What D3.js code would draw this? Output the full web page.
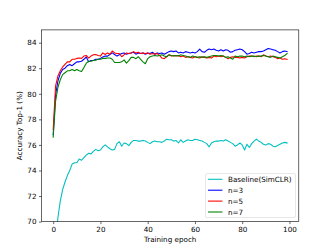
<!DOCTYPE html>
<html>
<head>
<meta charset="utf-8">
<script src="https://cdn.jsdelivr.net/npm/d3@7"></script>
<style>
  body { margin: 0; background: #fff; }
  svg { display: block; font-family: "DejaVu Sans", sans-serif; }
</style>
</head>
<body>
<div id="chart"></div>
<script>
const epochs = d3.range(0, 100);

const baseline = [
  66.5, 68.6, 70.3, 71.6, 72.5, 73.1, 73.6, 74.0, 74.5, 74.6,
  74.6, 74.9, 74.8, 75.0, 75.2, 75.35, 75.3, 75.5, 75.65, 75.55,
  75.6, 75.85, 76.0, 75.85, 75.7, 75.6, 75.65, 76.1, 76.25, 75.9,
  76.15, 76.1, 75.95, 76.2, 76.35, 76.35, 76.3, 76.3, 76.35, 76.3,
  76.2, 76.1, 76.25, 76.3, 76.25, 76.25, 76.2, 76.3, 76.45, 76.4,
  76.4, 76.3, 76.35, 76.15, 76.4, 76.2, 76.3, 76.4, 76.35, 76.35,
  76.45, 76.4, 76.35, 76.3, 76.2, 76.1, 75.85, 76.15, 76.25, 76.3,
  76.3, 76.35, 76.3, 76.4, 76.3, 76.2, 76.1, 75.9, 76.0, 76.15,
  76.0, 75.6, 76.05, 75.8, 76.1, 76.3, 76.45, 76.3, 76.2, 76.05,
  76.0, 76.1, 76.05, 75.9, 75.85, 75.95, 76.05, 76.15, 76.2, 76.15
];

const n3 = [
  76.8, 79.9, 81.0, 81.6, 81.9, 82.0, 82.2, 82.3, 82.2, 82.35,
  82.5, 82.5, 82.55, 82.7, 82.88, 82.5, 82.6, 82.6, 82.7, 82.7,
  82.77, 82.88, 82.95, 82.95, 83.08, 83.2, 83.08, 82.95, 83.05, 83.15,
  83.2, 83.1, 83.15, 83.2, 83.25, 83.1, 83.2, 83.15, 83.2, 83.1,
  83.2, 83.15, 83.25, 83.1, 83.2, 83.15, 83.2, 83.1, 83.2, 83.3,
  83.35, 83.3, 83.35, 83.2, 83.25, 83.2, 83.3, 83.25, 83.2, 83.25,
  83.2, 83.3, 83.5, 83.3, 83.25, 83.4, 83.5, 83.45, 83.5, 83.4,
  83.35, 83.45, 83.35, 83.45, 83.4, 83.25, 83.3, 83.4, 83.45, 83.5,
  83.45, 83.3, 83.1, 83.15, 83.25, 83.2, 83.25, 83.3, 83.3, 83.35,
  83.45, 83.55, 83.5, 83.45, 83.4, 83.3, 83.2, 83.3, 83.35, 83.3
];

const n5 = [
  77.2, 80.6, 81.4, 81.8, 82.1, 82.3, 82.5, 82.5, 82.7, 82.7,
  82.77, 82.8, 82.77, 82.95, 83.0, 82.8, 82.95, 83.05, 83.08, 83.0,
  82.95, 83.2, 83.08, 83.2, 83.1, 83.35, 83.2, 83.15, 83.15, 82.9,
  83.05, 83.2, 83.15, 83.2, 83.3, 83.2, 83.25, 83.15, 83.2, 83.15,
  83.2, 83.1, 83.15, 83.1, 83.15, 83.0, 82.8, 82.75, 82.9, 83.05,
  82.95, 83.0, 82.95, 83.0, 82.9, 82.95, 82.85, 82.9, 82.85, 82.8,
  82.9, 82.85, 82.8, 82.9, 82.85, 82.8, 82.85, 82.8, 82.95, 82.9,
  82.95, 82.9, 82.95, 82.85, 82.75, 82.85, 82.9, 82.85, 82.85, 82.8,
  82.85, 82.8, 82.9, 82.95, 82.95, 82.9, 82.95, 82.95, 82.9, 83.05,
  82.95, 82.9, 82.95, 82.9, 82.85, 82.75, 82.8, 82.7, 82.75, 82.7
];

const n7 = [
  76.6, 79.4, 80.5, 81.1, 81.5, 81.65, 81.8, 81.8, 81.9, 81.8,
  81.9, 81.8, 81.75, 82.05, 82.4, 82.55, 82.55, 82.6, 82.63, 82.7,
  82.7, 82.77, 82.77, 82.8, 82.8, 82.7, 82.45, 82.45, 82.45, 82.5,
  82.65, 82.4, 82.6, 82.85, 82.85, 82.75, 82.9, 82.7, 82.5, 82.35,
  82.75, 82.9, 82.95, 83.0, 82.95, 83.0, 83.05, 82.95, 82.9, 83.05,
  83.0, 82.95, 83.0, 82.95, 83.05, 83.0, 82.95, 82.9, 82.85, 82.95,
  82.9, 82.85, 82.9, 82.85, 82.9, 82.85, 82.9, 82.95, 83.0, 83.0,
  82.95, 83.0, 82.95, 82.85, 82.9, 82.8, 82.7, 82.95, 82.9, 82.95,
  82.95, 82.9, 82.95, 82.9, 82.95, 82.95, 82.9, 82.95, 82.95, 83.0,
  82.95, 82.9, 82.85, 82.95, 82.9, 82.85, 82.8, 82.9, 83.0, 83.15
];

const seriesNames = ['Baseline(SimCLR)', 'n=3', 'n=5', 'n=7'];
const seriesValues = [baseline, n3, n5, n7];
const seriesColors = ['#00bfbf', '#0000ff', '#ff0000', '#008000'];

const xTicks = [0, 20, 40, 60, 80, 100];
const yTicks = [70, 72, 74, 76, 78, 80, 82, 84];

const width = 332;
const height = 249;
const margin = { top: 29.9, right: 33.2, bottom: 27.4, left: 41.5 };
const fontSize = 7.2;

const svg = d3.select('#chart')
  .append('svg')
  .attr('width', width)
  .attr('height', height);

const x = d3.scaleLinear()
  .domain([-4.95, 103.95])
  .range([margin.left, width - margin.right]);

const y = d3.scaleLinear()
  .domain([70, 85])
  .range([height - margin.bottom, margin.top]);

svg.append('clipPath')
  .attr('id', 'plot-clip')
  .append('rect')
  .attr('x', margin.left)
  .attr('y', margin.top)
  .attr('width', width - margin.left - margin.right)
  .attr('height', height - margin.top - margin.bottom);

const line = d3.line()
  .x((d, i) => x(epochs[i]))
  .y((d) => y(d));

const plot = svg.append('g').attr('clip-path', 'url(#plot-clip)');

seriesValues.forEach((values, i) => {
  plot.append('path')
    .datum(values)
    .attr('fill', 'none')
    .attr('stroke', seriesColors[i])
    .attr('stroke-width', 1.08)
    .attr('stroke-linejoin', 'round')
    .attr('stroke-linecap', 'square')
    .attr('d', line);
});

// axes
const xAxis = svg.append('g')
  .attr('transform', `translate(0,${height - margin.bottom})`)
  .call(d3.axisBottom(x).tickValues(xTicks).tickSize(2.5).tickPadding(2.5));

const yAxis = svg.append('g')
  .attr('transform', `translate(${margin.left},0)`)
  .call(d3.axisLeft(y).tickValues(yTicks).tickSize(2.5).tickPadding(2.5));

[xAxis, yAxis].forEach((g) => {
  g.select('.domain').remove();
  g.selectAll('line').attr('stroke', '#000').attr('stroke-width', 0.6);
  g.selectAll('text')
    .attr('fill', '#000')
    .style('font-size', `${fontSize}px`)
    .style('font-family', '"DejaVu Sans", sans-serif');
});

// spines
svg.append('rect')
  .attr('x', margin.left)
  .attr('y', margin.top)
  .attr('width', width - margin.left - margin.right)
  .attr('height', height - margin.top - margin.bottom)
  .attr('fill', 'none')
  .attr('stroke', '#000')
  .attr('stroke-width', 0.6);

svg.append('text')
  .attr('x', (margin.left + width - margin.right) / 2)
  .attr('y', 242)
  .attr('text-anchor', 'middle')
  .style('font-size', `${fontSize}px`)
  .text('Training epoch');

svg.append('text')
  .attr('transform', `translate(19.5,${(margin.top + height - margin.bottom) / 2}) rotate(-90)`)
  .attr('text-anchor', 'middle')
  .attr('dy', '0.35em')
  .style('font-size', `${fontSize}px`)
  .text('Accuracy Top-1 (%)');

// legend
const legend = svg.append('g').attr('transform', 'translate(205.5,173.5)');

legend.append('rect')
  .attr('width', 90)
  .attr('height', 44)
  .attr('rx', 1.5)
  .attr('fill', '#fff')
  .attr('fill-opacity', 0.8)
  .attr('stroke', '#d6d6d6')
  .attr('stroke-width', 0.6);

seriesNames.forEach((name, i) => {
  const row = legend.append('g').attr('transform', `translate(0,${5.8 + i * 10.9})`);
  row.append('line')
    .attr('x1', 2.5)
    .attr('x2', 16.9)
    .attr('stroke', seriesColors[i])
    .attr('stroke-width', 1.08);
  row.append('text')
    .attr('x', 22.5)
    .attr('dy', '0.35em')
    .style('font-size', `${fontSize}px`)
    .text(name);
});
</script>
</body>
</html>
